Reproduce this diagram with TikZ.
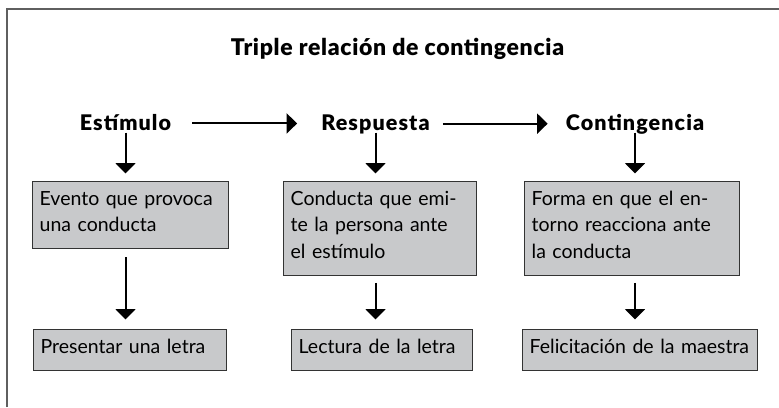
\documentclass[tikz,border=0pt]{standalone}
\usepackage{fontspec}
\setmainfont{Lato}
\newfontfamily\headfont{Lato Black}[LetterSpace=5]
\newfontfamily\titlefont{Lato Black}[LetterSpace=3]
\usetikzlibrary{arrows.meta}
\definecolor{boxgray}{RGB}{200,201,203}
\definecolor{framegray}{RGB}{95,95,95}
\tikzset{
  head/.style={font=\headfont\fontsize{21.5}{25}\selectfont, inner sep=0pt, text depth=2pt, anchor=base},
  cajon/.style={draw=black!80, line width=1.3pt, fill=boxgray, anchor=north west, align=left,
    inner xsep=7pt, inner ysep=0pt, font=\fontsize{19.5}{26.5}\selectfont,
    execute at begin node={\rule{0pt}{24pt}}, execute at end node={\rule[-17pt]{0pt}{0pt}}},
  flecha/.style={line width=2pt, -{Triangle[width=20pt,length=10.5pt]}}
}
\begin{document}
\begin{tikzpicture}[x=1pt,y=-1pt]
        \useasboundingbox (0,0) rectangle (779,407);
        \draw[framegray, line width=2pt] (7,407) -- (7,9) -- (779,9);
        \node[head, font=\titlefont\fontsize{23}{26}\selectfont] (tit) at (397.5,55.5) {Triple relación de contingencia};
        \node[head] (est) at (125.5,130.5) {Estímulo};
        \node[head] (res) at (375.5,130.5) {Respuesta};
        \node[head] (con) at (635,130.5) {Contingencia};
        \node[cajon, text width=182pt] (b1) at (32,180.5) {Evento que provoca\\una conducta};
        \node[cajon, text width=179pt] (b2) at (283,180.5) {Conducta que emi-\\te la persona ante\\el estímulo};
        \node[cajon, text width=201pt] (b3) at (524,180.5) {Forma en que el en-\\torno reacciona ante\\la conducta};
        \node[cajon, text width=179pt] (b4) at (33,328.5) {Presentar una letra};
        \node[cajon, text width=167pt] (b5) at (291,328.5) {Lectura de la letra};
        \node[cajon, text width=221pt] (b6) at (522,328.5) {Felicitación de la maestra};
        % flechas entre encabezados
        \draw[flecha, shorten <=21pt, shorten >=24pt] (est.east) -- (est.east -| res.west);
        \draw[flecha, shorten <=13pt, shorten >=18pt] (res.east) -- (res.east -| con.west);
        % flechas hacia abajo
        \draw[flecha, shorten >=7pt] (est.south) -- (est.south |- b1.north);
        \draw[flecha, shorten >=7pt] (res.south) -- (res.south |- b2.north);
        \draw[flecha, shorten >=7pt] (con.south) -- (con.south |- b3.north);
        \draw[flecha, shorten <=8pt, shorten >=9pt] (b1.south -| est.south) -- (b4.north -| est.south);
        \draw[flecha, shorten <=7pt, shorten >=9pt] (b2.south -| res.south) -- (b5.north -| res.south);
        \draw[flecha, shorten <=7pt, shorten >=9pt] (b3.south -| con.south) -- (b6.north -| con.south);
      \end{tikzpicture}
\end{document}
